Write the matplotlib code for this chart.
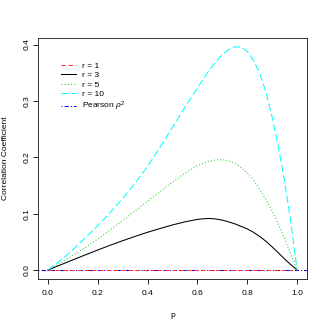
import numpy as np
import matplotlib
matplotlib.use("Agg")
import matplotlib.pyplot as plt

# values
p = [0.0, 0.05, 0.1, 0.15, 0.2, 0.25, 0.3, 0.35, 0.4, 0.45, 0.5, 0.55, 0.6,
     0.625, 0.65, 0.675, 0.7, 0.725, 0.75, 0.775, 0.8, 0.825, 0.85, 0.875,
     0.9, 0.925, 0.95, 0.975, 1.0]
r1 = [0.0] * len(p)
r3 = [0.0, 0.009, 0.018, 0.0268, 0.0355, 0.044, 0.052, 0.0597, 0.067, 0.0737,
      0.080, 0.0855, 0.0898, 0.091, 0.0915, 0.0905, 0.0885, 0.0855, 0.082,
      0.0775, 0.073, 0.067, 0.0595, 0.051, 0.041, 0.0305, 0.0195, 0.0095, 0.0]
r5 = [0.0, 0.0125, 0.026, 0.040, 0.055, 0.071, 0.088, 0.105, 0.122, 0.139,
      0.156, 0.172, 0.185, 0.1898, 0.1935, 0.1955, 0.1955, 0.1935, 0.1895,
      0.182, 0.1725, 0.160, 0.143, 0.125, 0.105, 0.0815, 0.0555, 0.028, 0.0]
r10 = [0.0, 0.017, 0.036, 0.057, 0.079, 0.102, 0.127, 0.154, 0.184, 0.218,
       0.253, 0.289, 0.323, 0.340, 0.356, 0.370, 0.382, 0.391, 0.396, 0.3955,
       0.388, 0.372, 0.349, 0.316, 0.271, 0.218, 0.157, 0.085, 0.0]
pearson = 0.0

plt.rcParams['font.family'] = ['Liberation Sans', 'DejaVu Sans']
plt.rcParams['mathtext.fontset'] = 'custom'
plt.rcParams['mathtext.rm'] = 'Liberation Sans'
plt.rcParams['mathtext.it'] = 'Liberation Sans:italic'

fig = plt.figure(figsize=(3.27, 3.27), dpi=100)
ax = fig.add_axes([0.116, 0.147, 0.823, 0.737])

lw = 0.75
ax.plot(p, r1, color="#FF3030", lw=lw, ls=(0, (4, 3)), label="r = 1", zorder=3)
ax.plot(p, r3, color="black", lw=lw, ls="-", label="r = 3")
ax.plot(p, r5, color="#33CC33", lw=lw, ls=(0, (1, 2)), label="r = 5")
ax.plot(p, r10, color="#00FFFF", lw=lw, ls=(0, (7, 3)), label="r = 10")
ax.axhline(pearson, color="#0000FF", lw=lw, ls=(0, (1, 2, 4, 2)),
           label=r"Pearson $\rho^2$", zorder=2)

ax.set_xlim(-0.04, 1.04)
ax.set_ylim(-0.0158, 0.4118)
ax.set_xticks([0.0, 0.2, 0.4, 0.6, 0.8, 1.0])
ax.set_yticks([0.0, 0.1, 0.2, 0.3, 0.4])
ax.set_xticklabels(["0.0", "0.2", "0.4", "0.6", "0.8", "1.0"])
ax.set_yticklabels(["0.0", "0.1", "0.2", "0.3", "0.4"], rotation=90, va="center")
ax.tick_params(direction="out", length=3.6, width=0.6, labelsize=6)
ax.tick_params(axis="x", pad=4.5)
ax.tick_params(axis="y", pad=1.5)
for s in ax.spines.values():
    s.set_linewidth(0.7)
    s.set_color("#333333")

ax.set_xlabel("p", fontsize=6, labelpad=11)
ax.set_ylabel("Correlation Coefficient", fontsize=6, labelpad=11)

ax.legend(loc="upper left", bbox_to_anchor=(0.075, 0.915), frameon=False, fontsize=6,
          handlelength=1.7, handletextpad=0.8, labelspacing=0.2, borderaxespad=0)

fig.savefig("out.png", dpi=100)
